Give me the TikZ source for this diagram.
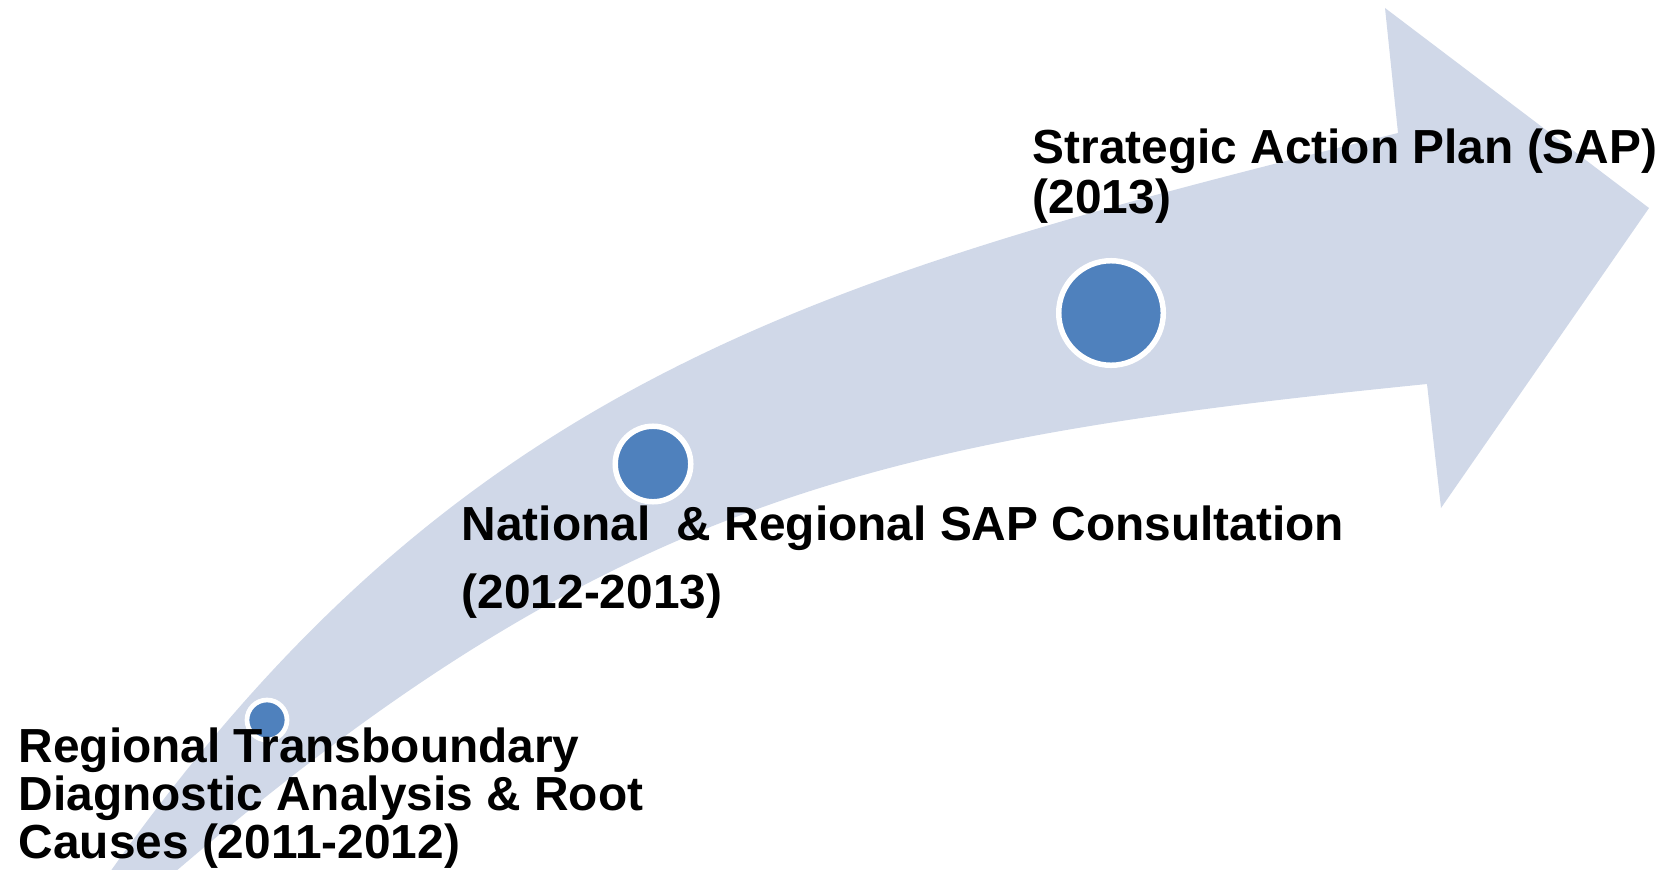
\documentclass[tikz,border=0pt]{standalone}
\usepackage{fontspec}
\setmainfont{Liberation Sans}
\definecolor{bandcol}{RGB}{208,216,232}
\definecolor{dotcol}{RGB}{79,129,189}
\begin{document}
\begin{tikzpicture}[x=0.01cm,y=-0.01cm,
  dotnode/.style={circle,fill=dotcol,draw=white,inner sep=0pt},
  lbl/.style={anchor=base west,inner sep=0pt,font=\fontsize{13.6pt}{13.9pt}\selectfont\bfseries}]
\useasboundingbox (0,0) rectangle (1667,870);
\clip (0,0) rectangle (1667,870);
% curved band arrow
\fill[bandcol] (110,872) .. controls (458,380) and (815,277) .. (1398,133)
  -- (1385,8) -- (1649,208) -- (1441,508) -- (1427,384)
  .. controls (880,439) and (613,497) .. (175,872) -- cycle;
% milestones
\node[dotnode,minimum size=0.40cm,line width=1.34pt] (d1) at (267,720) {};
\node[dotnode,minimum size=0.755cm,line width=1.56pt] (d2) at (653,464) {};
\node[dotnode,minimum size=1.045cm,line width=1.56pt] (d3) at (1111,313) {};
% labels
\node[lbl] (t1a) at (18,762) {Regional Transboundary};
\node[lbl] (t1b) at (18,810) {Diagnostic Analysis \& Root};
\node[lbl] (t1c) at (18,858) {Causes (2011-2012)};
\node[lbl] (t2a) at (461,540) {National\ \ \& Regional SAP Consultation};
\node[lbl] (t2b) at (461,608) {(2012-2013)};
\node[lbl] (t3a) at (1032,163) {Strategic Action Plan (SAP)};
\node[lbl] (t3b) at (1032,213) {(2013)};
\end{tikzpicture}
\end{document}
